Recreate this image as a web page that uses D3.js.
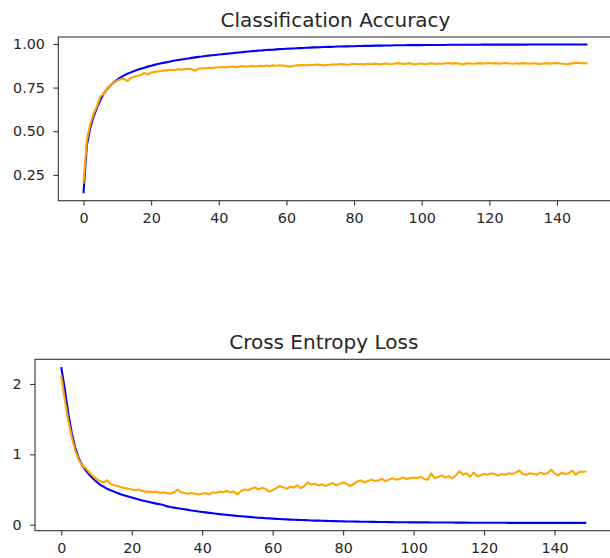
<!DOCTYPE html>
<html><head><meta charset="utf-8">
<script src="https://cdn.jsdelivr.net/npm/d3@7"></script>
<style>html,body{margin:0;padding:0;background:#fff;}svg{display:block;}</style>
</head><body>
<svg id="chart" width="610" height="558"></svg>
<script>
const epochTicks = [0, 20, 40, 60, 80, 100, 120, 140];
const accTicks = [0.25, 0.50, 0.75, 1.00];
const lossTicks = [0, 1, 2];
const titles = ["Classification Accuracy", "Cross Entropy Loss"];

const trainAcc = [
0.145,0.42,0.52,0.585,0.635,0.68,0.715,0.742,0.763,0.78,
0.795,0.808,0.82,0.829,0.837,0.845,0.852,0.858,0.864,0.870,
0.875,0.880,0.885,0.889,0.893,0.897,0.901,0.905,0.908,0.911,
0.914,0.917,0.920,0.923,0.926,0.928,0.931,0.933,0.935,0.937,
0.939,0.941,0.943,0.945,0.947,0.949,0.951,0.953,0.955,0.957,
0.959,0.960,0.962,0.963,0.965,0.966,0.967,0.969,0.970,0.971,
0.972,0.973,0.974,0.975,0.976,0.977,0.978,0.979,0.980,0.980,
0.981,0.982,0.983,0.983,0.984,0.985,0.985,0.986,0.986,0.987,
0.987,0.988,0.988,0.989,0.989,0.989,0.990,0.990,0.990,0.991,
0.991,0.991,0.992,0.992,0.992,0.992,0.993,0.993,0.993,0.993,
0.993,0.994,0.994,0.994,0.994,0.994,0.994,0.994,0.995,0.995,
0.995,0.995,0.995,0.995,0.995,0.995,0.995,0.995,0.996,0.996,
0.996,0.996,0.996,0.996,0.996,0.996,0.996,0.996,0.996,0.996,
0.996,0.996,0.997,0.997,0.997,0.997,0.997,0.997,0.997,0.997,
0.997,0.997,0.997,0.997,0.997,0.997,0.997,0.997,0.997,0.997];

const valAcc = [
0.20,0.45,0.54,0.60,0.645,0.70,0.712,0.745,0.765,0.778,
0.790,0.798,0.800,0.787,0.805,0.812,0.818,0.822,0.834,0.825,
0.836,0.840,0.843,0.845,0.848,0.850,0.852,0.851,0.855,0.853,
0.856,0.858,0.855,0.846,0.858,0.861,0.860,0.863,0.862,0.865,
0.866,0.868,0.865,0.869,0.870,0.867,0.871,0.873,0.870,0.872,
0.874,0.871,0.875,0.873,0.876,0.874,0.877,0.875,0.878,0.876,
0.873,0.870,0.874,0.878,0.877,0.880,0.878,0.881,0.879,0.882,
0.880,0.877,0.879,0.881,0.884,0.882,0.885,0.883,0.881,0.884,
0.886,0.884,0.885,0.883,0.886,0.884,0.887,0.885,0.883,0.888,
0.886,0.884,0.888,0.890,0.887,0.885,0.889,0.887,0.882,0.886,
0.888,0.884,0.887,0.889,0.885,0.888,0.886,0.889,0.891,0.887,
0.890,0.888,0.884,0.887,0.889,0.886,0.888,0.890,0.887,0.889,
0.891,0.888,0.890,0.886,0.889,0.891,0.888,0.886,0.889,0.887,
0.890,0.888,0.886,0.889,0.887,0.885,0.888,0.890,0.887,0.889,
0.891,0.888,0.886,0.884,0.887,0.890,0.892,0.889,0.891,0.888];

const trainLoss = [
2.24,1.93,1.58,1.30,1.09,0.94,0.84,0.77,0.71,0.655,
0.61,0.57,0.54,0.51,0.49,0.47,0.45,0.43,0.415,0.40,
0.386,0.372,0.358,0.345,0.333,0.321,0.310,0.299,0.289,0.279,
0.26,0.25,0.242,0.234,0.226,0.218,0.210,0.202,0.195,0.188,
0.181,0.175,0.168,0.162,0.156,0.150,0.145,0.139,0.134,0.129,
0.124,0.120,0.115,0.111,0.107,0.103,0.099,0.096,0.092,0.089,
0.086,0.083,0.080,0.077,0.075,0.072,0.070,0.068,0.066,0.064,
0.062,0.060,0.058,0.057,0.055,0.054,0.052,0.051,0.050,0.048,
0.047,0.046,0.045,0.044,0.043,0.042,0.041,0.041,0.040,0.039,
0.038,0.038,0.037,0.036,0.036,0.035,0.035,0.034,0.034,0.033,
0.033,0.033,0.032,0.032,0.032,0.031,0.031,0.031,0.030,0.030,
0.030,0.030,0.029,0.029,0.029,0.029,0.028,0.028,0.028,0.028,
0.028,0.027,0.027,0.027,0.027,0.027,0.027,0.026,0.026,0.026,
0.026,0.026,0.026,0.026,0.025,0.025,0.025,0.025,0.025,0.025,
0.025,0.025,0.025,0.025,0.025,0.025,0.025,0.025,0.025,0.025];

const valLoss = [
2.12,1.78,1.48,1.24,1.05,0.92,0.84,0.80,0.74,0.69,
0.65,0.62,0.60,0.63,0.58,0.56,0.55,0.53,0.52,0.51,
0.50,0.49,0.50,0.48,0.47,0.47,0.46,0.47,0.45,0.46,
0.45,0.44,0.46,0.50,0.46,0.45,0.44,0.45,0.44,0.43,
0.44,0.45,0.43,0.46,0.45,0.47,0.46,0.48,0.46,0.47,
0.43,0.48,0.50,0.49,0.51,0.53,0.50,0.52,0.51,0.47,
0.49,0.52,0.55,0.53,0.51,0.54,0.53,0.56,0.52,0.55,
0.60,0.57,0.58,0.56,0.57,0.55,0.57,0.59,0.56,0.58,
0.60,0.58,0.55,0.58,0.61,0.63,0.60,0.62,0.64,0.62,
0.63,0.65,0.62,0.64,0.66,0.64,0.65,0.67,0.65,0.66,
0.67,0.66,0.68,0.65,0.64,0.73,0.66,0.68,0.70,0.67,
0.69,0.66,0.70,0.76,0.71,0.73,0.68,0.74,0.69,0.70,
0.72,0.71,0.73,0.72,0.70,0.72,0.71,0.73,0.72,0.74,
0.77,0.72,0.71,0.73,0.72,0.71,0.74,0.72,0.73,0.78,
0.73,0.70,0.74,0.72,0.73,0.77,0.71,0.75,0.75,0.76];

const svg = d3.select("#chart");
const FONT = "DejaVu Sans, sans-serif";
const TXT = "#262626";

function panel(cfg) {
  const {left, right, top, bottom, train, val, yTicks, yFmt, title, id} = cfg;
  const n = train.length;
  const xPad = (n - 1) * 0.05;
  const x = d3.scaleLinear().domain([-xPad, (n - 1) + xPad]).range([left, right]);
  const all = train.concat(val);
  const lo = d3.min(all), hi = d3.max(all), pad = (hi - lo) * 0.05;
  const y = d3.scaleLinear().domain([lo - pad, hi + pad]).range([bottom, top]);

  svg.append("clipPath").attr("id", id).append("rect")
    .attr("x", left).attr("y", top).attr("width", right - left).attr("height", bottom - top);

  const line = d3.line().x((d, i) => x(i)).y(d => y(d));
  const g = svg.append("g").attr("clip-path", `url(#${id})`);
  g.append("path").datum(train).attr("d", line).attr("fill", "none")
    .attr("stroke", "blue").attr("stroke-width", 2.1).attr("stroke-linejoin", "round");
  g.append("path").datum(val).attr("d", line).attr("fill", "none")
    .attr("stroke", "orange").attr("stroke-width", 2.1).attr("stroke-linejoin", "round");

  const xa = svg.append("g").attr("transform", `translate(0,${bottom})`)
    .call(d3.axisBottom(x).tickValues(epochTicks).tickFormat(d3.format("d")).tickSize(4.9).tickPadding(6.8));
  const ya = svg.append("g").attr("transform", `translate(${left},0)`)
    .call(d3.axisLeft(y).tickValues(yTicks).tickFormat(d3.format(yFmt)).tickSize(4.9).tickPadding(8.5));
  [xa, ya].forEach(a => {
    a.select(".domain").remove();
    a.selectAll(".tick line").attr("stroke", "#333").attr("stroke-width", 1.1);
    a.selectAll(".tick text").attr("fill", TXT).style("font-family", FONT).style("font-size", "14.3px");
  });

  svg.append("rect").attr("x", left).attr("y", top).attr("width", right - left).attr("height", bottom - top)
    .attr("fill", "none").attr("stroke", "#333").attr("stroke-width", 1.1);

  svg.append("text").attr("x", (left + right) / 2).attr("y", top - 10.5)
    .attr("text-anchor", "middle").attr("fill", TXT)
    .style("font-family", FONT).style("font-size", "20px").text(title);
}

panel({id: "c1", left: 58.3, right: 612.6, top: 37, bottom: 200.7,
  train: trainAcc, val: valAcc, yTicks: accTicks, yFmt: ".2f", title: titles[0]});
panel({id: "c2", left: 35, right: 612.5, top: 359.3, bottom: 530.7,
  train: trainLoss, val: valLoss, yTicks: lossTicks, yFmt: "d", title: titles[1]});
</script>
</body></html>
